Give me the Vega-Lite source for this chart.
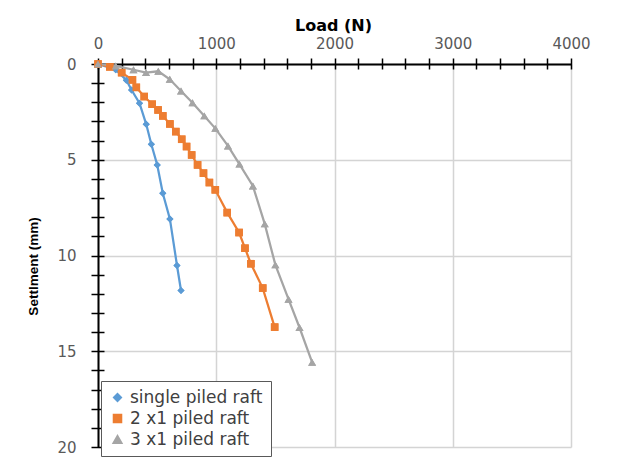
{
  "$schema": "https://vega.github.io/schema/vega-lite/v6.json",
  "autosize": {"type": "none"},
  "width": 473,
  "height": 383,
  "padding": {"left": 98, "top": 64, "right": 49, "bottom": 12},
  "background": "white",
  "config": {"view": {"stroke": null}},
  "data": {"values": [
    {"series": "single piled raft", "load": 0, "settlement": 0},
    {"series": "single piled raft", "load": 150, "settlement": 0.3},
    {"series": "single piled raft", "load": 240, "settlement": 0.85},
    {"series": "single piled raft", "load": 284, "settlement": 1.36},
    {"series": "single piled raft", "load": 351, "settlement": 2.05},
    {"series": "single piled raft", "load": 408, "settlement": 3.15},
    {"series": "single piled raft", "load": 451, "settlement": 4.19},
    {"series": "single piled raft", "load": 501, "settlement": 5.27},
    {"series": "single piled raft", "load": 548, "settlement": 6.75},
    {"series": "single piled raft", "load": 608, "settlement": 8.09},
    {"series": "single piled raft", "load": 668, "settlement": 10.52},
    {"series": "single piled raft", "load": 702, "settlement": 11.83},
    {"series": "2 x1 piled raft", "load": 0, "settlement": 0},
    {"series": "2 x1 piled raft", "load": 100, "settlement": 0.15},
    {"series": "2 x1 piled raft", "load": 200, "settlement": 0.45},
    {"series": "2 x1 piled raft", "load": 291, "settlement": 0.83},
    {"series": "2 x1 piled raft", "load": 324, "settlement": 1.22},
    {"series": "2 x1 piled raft", "load": 391, "settlement": 1.7},
    {"series": "2 x1 piled raft", "load": 458, "settlement": 2.1},
    {"series": "2 x1 piled raft", "load": 508, "settlement": 2.4},
    {"series": "2 x1 piled raft", "load": 548, "settlement": 2.71},
    {"series": "2 x1 piled raft", "load": 608, "settlement": 3.13},
    {"series": "2 x1 piled raft", "load": 658, "settlement": 3.53},
    {"series": "2 x1 piled raft", "load": 708, "settlement": 3.93},
    {"series": "2 x1 piled raft", "load": 749, "settlement": 4.31},
    {"series": "2 x1 piled raft", "load": 792, "settlement": 4.75},
    {"series": "2 x1 piled raft", "load": 842, "settlement": 5.27},
    {"series": "2 x1 piled raft", "load": 892, "settlement": 5.7},
    {"series": "2 x1 piled raft", "load": 942, "settlement": 6.19},
    {"series": "2 x1 piled raft", "load": 992, "settlement": 6.57},
    {"series": "2 x1 piled raft", "load": 1093, "settlement": 7.76},
    {"series": "2 x1 piled raft", "load": 1193, "settlement": 8.8},
    {"series": "2 x1 piled raft", "load": 1243, "settlement": 9.62},
    {"series": "2 x1 piled raft", "load": 1293, "settlement": 10.43},
    {"series": "2 x1 piled raft", "load": 1393, "settlement": 11.7},
    {"series": "2 x1 piled raft", "load": 1494, "settlement": 13.74},
    {"series": "3 x1 piled raft", "load": 0, "settlement": 0},
    {"series": "3 x1 piled raft", "load": 150, "settlement": 0.1},
    {"series": "3 x1 piled raft", "load": 300, "settlement": 0.3},
    {"series": "3 x1 piled raft", "load": 406, "settlement": 0.45},
    {"series": "3 x1 piled raft", "load": 510, "settlement": 0.38},
    {"series": "3 x1 piled raft", "load": 607, "settlement": 0.8},
    {"series": "3 x1 piled raft", "load": 702, "settlement": 1.41},
    {"series": "3 x1 piled raft", "load": 799, "settlement": 2.02},
    {"series": "3 x1 piled raft", "load": 899, "settlement": 2.71},
    {"series": "3 x1 piled raft", "load": 992, "settlement": 3.36},
    {"series": "3 x1 piled raft", "load": 1099, "settlement": 4.28},
    {"series": "3 x1 piled raft", "load": 1196, "settlement": 5.23},
    {"series": "3 x1 piled raft", "load": 1310, "settlement": 6.37},
    {"series": "3 x1 piled raft", "load": 1410, "settlement": 8.35},
    {"series": "3 x1 piled raft", "load": 1500, "settlement": 10.49},
    {"series": "3 x1 piled raft", "load": 1611, "settlement": 12.28},
    {"series": "3 x1 piled raft", "load": 1704, "settlement": 13.76},
    {"series": "3 x1 piled raft", "load": 1811, "settlement": 15.58}
  ]},
  "resolve": {"scale": {"x": "shared", "y": "shared"}, "axis": {"x": "independent", "y": "independent"}},
  "layer": [
    {
      "mark": {"type": "point", "filled": true, "opacity": 1},
      "encoding": {
        "x": {"field": "load", "type": "quantitative", "scale": {"domain": [0, 4000], "nice": false},
          "axis": {"orient": "top", "values": [0, 1000, 2000, 3000, 4000], "format": "d", "grid": true, "gridColor": "#d4d4d4", "gridWidth": 1.5,
            "ticks": false, "labelPadding": 13, "labelFlush": false, "labelOverlap": false,
            "labelFont": "DejaVu Sans", "labelFontSize": 15, "labelColor": "#595959",
            "domainColor": "#000000", "domainWidth": 2,
            "title": "Load (N)", "titleFont": "DejaVu Sans", "titleFontWeight": "bold", "titleFontSize": 16, "titleColor": "#000000",
            "titleX": 235, "titleY": -39, "titleAlign": "center", "titleBaseline": "middle", "titleAngle": 0}},
        "y": {"field": "settlement", "type": "quantitative", "scale": {"domain": [0, 20], "nice": false, "reverse": true},
          "axis": {"orient": "left", "values": [0, 5, 10, 15, 20], "format": "d", "grid": true, "gridColor": "#d4d4d4", "gridWidth": 1.5,
            "ticks": false, "labelPadding": 22, "labelFlush": false, "labelOverlap": false,
            "labelFont": "DejaVu Sans", "labelFontSize": 15, "labelColor": "#595959",
            "domainColor": "#000000", "domainWidth": 2,
            "title": "Settlment (mm)", "titleFont": "Liberation Sans", "titleFontWeight": "bold", "titleFontSize": 13.5, "titleColor": "#000000",
            "titleX": -65, "titleY": 202, "titleAngle": 270, "titleAlign": "center", "titleBaseline": "middle"}},
        "color": {"field": "series", "type": "nominal",
          "scale": {"domain": ["single piled raft", "2 x1 piled raft", "3 x1 piled raft"], "range": ["#5B9BD5", "#ED7D31", "#A5A5A5"]},
          "legend": {"orient": "none", "legendX": 3, "legendY": 317, "direction": "vertical", "title": null,
            "strokeColor": "#595959", "fillColor": "#ffffff", "padding": 8, "symbolSize": 2116, "symbolStrokeWidth": 2,
            "labelFont": "DejaVu Sans", "labelFontSize": 17, "labelColor": "#404040", "labelOffset": 4, "rowPadding": 3,
            "encode": {"symbols": {
              "shape": {"value": {"expr": "datum.value === 'single piled raft' ? 'M-1,0H1M0,-0.16L0.16,0L0,0.16L-0.16,0Z' : datum.value === '2 x1 piled raft' ? 'M-1,0H1M-0.17,-0.17H0.17V0.17H-0.17Z' : 'M-1,0H1M0,-0.17L0.17,0.13L-0.17,0.13Z'"}},
              "size": {"value": 2116},
              "stroke": {"value": {"expr": "scale('color', datum.value)"}},
              "strokeWidth": {"value": 2}
            }}}},
        "shape": {"field": "series", "type": "nominal",
          "scale": {"domain": ["single piled raft", "2 x1 piled raft", "3 x1 piled raft"], "range": ["diamond", "square", "triangle-up"]},
          "legend": null},
        "size": {"field": "series", "type": "nominal",
          "scale": {"domain": ["single piled raft", "2 x1 piled raft", "3 x1 piled raft"], "range": [50, 64, 45]},
          "legend": null}
      }
    },
    {
      "mark": {"type": "line", "strokeWidth": 2.25},
      "encoding": {
        "x": {"field": "load", "type": "quantitative",
          "axis": {"orient": "top", "values": [0, 200, 400, 600, 800, 1000, 1200, 1400, 1600, 1800, 2000, 2200, 2400, 2600, 2800, 3000, 3200, 3400, 3600, 3800, 4000],
            "offset": -5, "tickSize": 11, "tickColor": "#000000", "tickWidth": 1.5, "labels": false, "domain": false, "grid": false, "title": null}},
        "y": {"field": "settlement", "type": "quantitative",
          "axis": {"orient": "left", "values": [0, 1, 2, 3, 4, 5, 6, 7, 8, 9, 10, 11, 12, 13, 14, 15, 16, 17, 18, 19, 20],
            "offset": -6, "tickSize": 13, "tickColor": "#000000", "tickWidth": 1.5, "labels": false, "domain": false, "grid": false, "title": null}},
        "color": {"field": "series", "type": "nominal"}
      }
    },
    {
      "mark": {"type": "point", "filled": true, "opacity": 1},
      "encoding": {
        "x": {"field": "load", "type": "quantitative", "axis": null},
        "y": {"field": "settlement", "type": "quantitative", "axis": null},
        "color": {"field": "series", "type": "nominal"},
        "shape": {"field": "series", "type": "nominal", "legend": null},
        "size": {"field": "series", "type": "nominal", "legend": null}
      }
    }
  ]
}
